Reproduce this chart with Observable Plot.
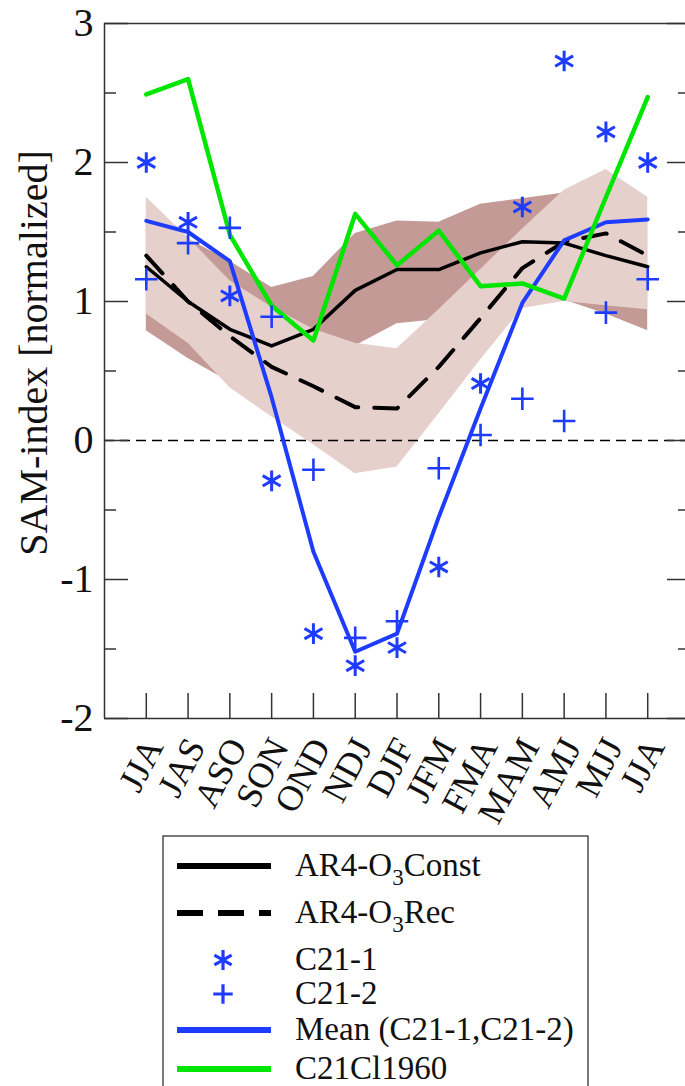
<!DOCTYPE html>
<html>
<head>
<meta charset="utf-8">
<script src="https://cdn.jsdelivr.net/npm/d3@7"></script>
<script src="https://cdn.jsdelivr.net/npm/@observablehq/plot@0.6"></script>
<style>
  body { margin: 0; background: #fff; }
  svg { display: block; }
</style>
</head>
<body>
<div id="chart"></div>
<div id="legend"></div>
<script>
// ---- data ----
const seasons = ["JJA","JAS","ASO","SON","OND","NDJ","DJF","JFM","FMA","MAM","AMJ","MJJ","JJA"];
const ar4O3Const = [1.25, 1.00, 0.80, 0.68, 0.80, 1.08, 1.23, 1.23, 1.35, 1.43, 1.42, 1.33, 1.25];
const ar4O3Rec   = [1.33, 1.00, 0.75, 0.53, 0.39, 0.24, 0.23, 0.53, 0.88, 1.24, 1.43, 1.49, 1.33];
const constLow   = [0.79, 0.59, 0.42, 0.45, 0.55, 0.68, 0.84, 0.87, 0.95, 0.99, 1.01, 0.91, 0.79];
const constHigh  = [1.60, 1.45, 1.29, 1.10, 1.18, 1.49, 1.58, 1.57, 1.70, 1.74, 1.78, 1.70, 1.60];
const recLow     = [0.91, 0.70, 0.38, 0.17, -0.03, -0.24, -0.19, 0.19, 0.58, 0.95, 1.00, 0.97, 0.94];
const recHigh    = [1.75, 1.46, 1.15, 0.96, 0.80, 0.70, 0.66, 0.94, 1.23, 1.52, 1.80, 1.95, 1.75];
const c21_1      = [2.00, 1.57, 1.04, -0.29, -1.39, -1.62, -1.49, -0.91, 0.41, 1.68, 2.73, 2.22, 2.00];
const c21_2      = [1.16, 1.42, 1.53, 0.89, -0.21, -1.42, -1.30, -0.20, 0.04, 0.30, 0.14, 0.92, 1.16];
const meanC21    = [1.58, 1.50, 1.29, 0.31, -0.80, -1.52, -1.39, -0.55, 0.23, 0.99, 1.44, 1.57, 1.59];
const c21Cl1960  = [2.49, 2.60, 1.48, 0.97, 0.72, 1.63, 1.26, 1.51, 1.11, 1.13, 1.02, 1.75, 2.47];
const yMajor = [-2, -1, 0, 1, 2, 3];
const yMinor = [-1.5, -0.5, 0.5, 1.5, 2.5];
const yTitle = "SAM-index [normalized]";

const table = seasons.map((s, i) => ({
  i, s,
  cst: ar4O3Const[i], rec: ar4O3Rec[i],
  cLo: constLow[i], cHi: constHigh[i],
  rLo: recLow[i], rHi: recHigh[i],
  c1: c21_1[i], c2: c21_2[i], mean: meanC21[i], cl: c21Cl1960[i]
}));
const idx = seasons.map((s, i) => i);

const BLUE = "#1e3cff", GREEN = "#00e600", DARK = "#c49a96", LIGHT = "#e6d0cc", AX = "#333";
const FONT = "'Liberation Serif', 'Times New Roman', serif";

const chart = Plot.plot({
  width: 685, height: 835,
  marginLeft: 104, marginTop: 23, marginBottom: 117, marginRight: -4,
  style: { fontFamily: FONT, background: "#fff", color: "#111" },
  x: { domain: [-1, 13], axis: null },
  y: { domain: [-2, 3], axis: null },
  marks: [
    Plot.areaY(table, { x: "i", y1: "cLo", y2: "cHi", fill: DARK }),
    Plot.areaY(table, { x: "i", y1: "rLo", y2: "rHi", fill: LIGHT }),
    Plot.ruleY([0], { stroke: "#000", strokeWidth: 1.3, strokeDasharray: "10,6" }),
    Plot.lineY(table, { x: "i", y: "cst", stroke: "#000", strokeWidth: 3.5 }),
    Plot.lineY(table, { x: "i", y: "rec", stroke: "#000", strokeWidth: 4, strokeDasharray: "24,16" }),
    Plot.lineY(table, { x: "i", y: "mean", stroke: BLUE, strokeWidth: 4 }),
    Plot.lineY(table, { x: "i", y: "cl", stroke: GREEN, strokeWidth: 4.5 }),
    Plot.dot(table, { x: "i", y: "c1", symbol: "asterisk", r: 9.8, stroke: BLUE, strokeWidth: 3 }),
    Plot.dot(table, { x: "i", y: "c2", symbol: "plus", r: 7.3, stroke: BLUE, strokeWidth: 2.6 }),
    // frame (left, top, bottom)
    Plot.ruleX([-1], { stroke: AX, strokeWidth: 1.5 }),
    Plot.ruleY([3, -2], { stroke: AX, strokeWidth: 1.5 }),
    // inward ticks
    Plot.tickY(yMajor, { y: d => d, insetRight: 561, stroke: AX, strokeWidth: 1.5 }),
    Plot.tickY(yMinor, { y: d => d, insetRight: 573, stroke: AX, strokeWidth: 1.5 }),
    Plot.tickY(yMajor, { y: d => d, insetLeft: 563, stroke: AX, strokeWidth: 1.5 }),
    Plot.tickY(yMinor, { y: d => d, insetLeft: 574, stroke: AX, strokeWidth: 1.5 }),
    Plot.tickX(idx, { x: d => d, insetTop: 670, stroke: AX, strokeWidth: 1.5 }),
    // tick labels
    Plot.text(yMajor, { y: d => d, frameAnchor: "left", text: d => String(d), textAnchor: "end", dx: -11, fontSize: 40, fill: "#111" }),
    Plot.text(table, { x: "i", text: "s", frameAnchor: "bottom", rotate: -62, textAnchor: "end", lineAnchor: "bottom", dx: 18, dy: 28, fontSize: 36, fill: "#111" }),
    Plot.text([yTitle], { text: d => d, frameAnchor: "left", textAnchor: "middle", lineAnchor: "middle", rotate: -90, dx: -70, dy: -18, fontSize: 40, fill: "#111" })
  ]
});
document.getElementById("chart").appendChild(chart);

// ---- legend (below the plot) ----
const legendItems = [
  { kind: "line", color: "#000", dash: null, label: ["AR4-O", "3", "Const"] },
  { kind: "line", color: "#000", dash: "26,15", label: ["AR4-O", "3", "Rec"] },
  { kind: "asterisk", color: BLUE, label: ["C21-1"] },
  { kind: "plus", color: BLUE, label: ["C21-2"] },
  { kind: "line", color: BLUE, dash: null, label: ["Mean (C21-1,C21-2)"] },
  { kind: "line", color: GREEN, dash: null, label: ["C21Cl1960"] }
];
const rowY = [31, 78, 125, 159, 195, 234];
const LH = 251;
const leg = d3.create("svg").attr("width", 685).attr("height", LH)
  .style("font-family", FONT).style("background", "#fff");
leg.append("rect").attr("x", 163).attr("y", 1).attr("width", 425).attr("height", 320)
  .attr("fill", "none").attr("stroke", AX).attr("stroke-width", 1.3);
legendItems.forEach((d, k) => {
  const y = rowY[k];
  if (d.kind === "line") {
    leg.append("line").attr("x1", 177).attr("x2", 271).attr("y1", y).attr("y2", y)
      .attr("stroke", d.color).attr("stroke-width", 6)
      .attr("stroke-dasharray", d.dash);
  } else {
    const sym = d.kind === "asterisk" ? d3.symbolAsterisk : d3.symbolPlus;
    const size = d.kind === "asterisk" ? 280 : 125;
    leg.append("path").attr("d", d3.symbol(sym, size)()).attr("transform", `translate(223,${y})`)
      .attr("fill", "none").attr("stroke", d.color).attr("stroke-width", 3.2);
  }
  const t = leg.append("text").attr("x", 295).attr("y", y + 10).attr("font-size", 33).attr("fill", "#111");
  if (d.label.length === 3) {
    t.append("tspan").text(d.label[0]);
    t.append("tspan").attr("font-size", 23).attr("dy", 9).text(d.label[1]);
    t.append("tspan").attr("dy", -9).text(d.label[2]);
  } else {
    t.text(d.label[0]);
  }
});
document.getElementById("legend").appendChild(leg.node());
</script>
</body>
</html>
